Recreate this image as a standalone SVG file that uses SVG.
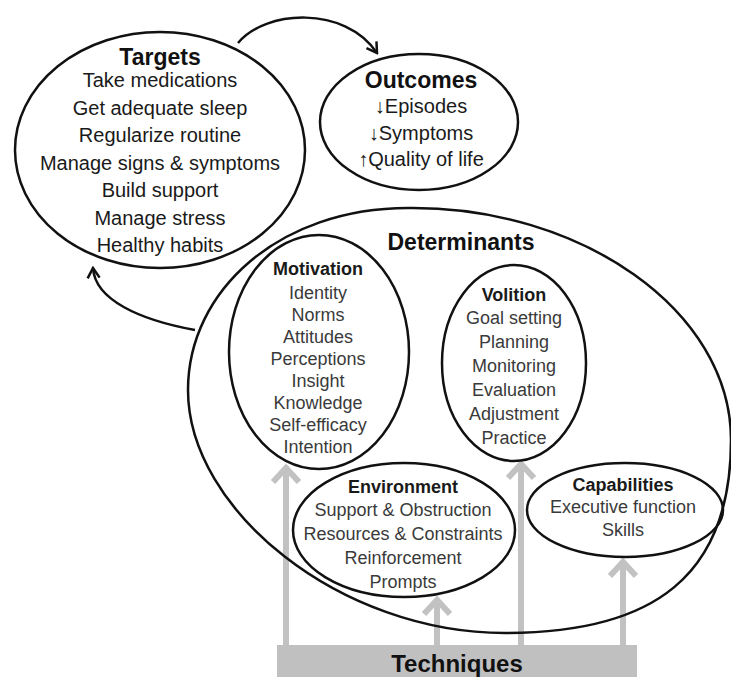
<svg xmlns="http://www.w3.org/2000/svg" xmlns:xlink="http://www.w3.org/1999/xlink" width="731" height="677" viewBox="0 0 731 677">
<style>
.el{fill:none;stroke:#111;stroke-width:2.5}
.t{font-family:"Liberation Sans",Arial,sans-serif;text-anchor:middle}
.h1{font-size:23px;font-weight:bold;fill:#111}
.i1{font-size:20px;fill:#1a1a1a}
.h2{font-size:18px;font-weight:bold;fill:#1a1a1a}
.i2{font-size:18px;fill:#3a3a3a}
.ga{fill:none;stroke:#c2c2c2;stroke-width:6}
.ba{fill:none;stroke:#111;stroke-width:2.5}
</style>
<defs>
<marker id="mk" viewBox="-12 -8 14 16" refX="0" refY="0" markerWidth="14" markerHeight="16" markerUnits="userSpaceOnUse" orient="auto">
<path d="M-10,-6 L0,0 L-10,6" fill="none" stroke="#111" stroke-width="2.5"/>
</marker>
<path id="gh" d="M-13,14 L0,0 L13,14" fill="none" stroke="#c2c2c2" stroke-width="6"/>
</defs>
<rect width="731" height="677" fill="#fff"/>

<g id="connectors">
<path class="ba" d="M238,43 C265,10 345,5 377,53" marker-end="url(#mk)"/>
<path class="ba" d="M195,330 C140,320 95,300 93,268" marker-end="url(#mk)"/>
<line class="ga" x1="286" y1="646" x2="286" y2="470"/>
<use xlink:href="#gh" x="286" y="468"/>
<line class="ga" x1="437" y1="646" x2="437" y2="602"/>
<use xlink:href="#gh" x="437" y="600"/>
<line class="ga" x1="521" y1="646" x2="521" y2="466"/>
<use xlink:href="#gh" x="521" y="464"/>
<line class="ga" x1="623" y1="646" x2="623" y2="564"/>
<use xlink:href="#gh" x="623" y="562"/>
</g>

<g id="targets">
<ellipse class="el" cx="160" cy="150" rx="145" ry="118"/>
<text class="t h1" x="160" y="65">Targets</text>
<text class="t i1" x="160" y="87">Take medications</text>
<text class="t i1" x="160" y="115">Get adequate sleep</text>
<text class="t i1" x="160" y="142">Regularize routine</text>
<text class="t i1" x="160" y="170">Manage signs &amp; symptoms</text>
<text class="t i1" x="160" y="197">Build support</text>
<text class="t i1" x="160" y="225">Manage stress</text>
<text class="t i1" x="160" y="252">Healthy habits</text>
</g>

<g id="outcomes">
<ellipse class="el" cx="419" cy="122" rx="99" ry="68"/>
<text class="t h1" x="421" y="88">Outcomes</text>
<text class="t i1" x="421" y="113">↓Episodes</text>
<text class="t i1" x="421" y="140">↓Symptoms</text>
<text class="t i1" x="421" y="166">↑Quality of life</text>
</g>

<g id="determinants">
<path class="el" d="M188,390 C188,290 280,208 408,208 C580,206 731,310 731,440 C731,575 655,633 505,633 C340,633 188,510 188,390 Z"/>
<text class="t h1" x="461" y="250">Determinants</text>
</g>

<g id="motivation">
<ellipse class="el" cx="319" cy="352" rx="90" ry="117"/>
<text class="t h2" x="318" y="275">Motivation</text>
<text class="t i2" x="318" y="299">Identity</text>
<text class="t i2" x="318" y="321">Norms</text>
<text class="t i2" x="318" y="343">Attitudes</text>
<text class="t i2" x="318" y="365">Perceptions</text>
<text class="t i2" x="318" y="387">Insight</text>
<text class="t i2" x="318" y="409">Knowledge</text>
<text class="t i2" x="318" y="431">Self-efficacy</text>
<text class="t i2" x="318" y="453">Intention</text>
</g>

<g id="volition">
<ellipse class="el" cx="514" cy="363" rx="72" ry="98"/>
<text class="t h2" x="514" y="301">Volition</text>
<text class="t i2" x="514" y="324">Goal setting</text>
<text class="t i2" x="514" y="348">Planning</text>
<text class="t i2" x="514" y="372">Monitoring</text>
<text class="t i2" x="514" y="396">Evaluation</text>
<text class="t i2" x="514" y="420">Adjustment</text>
<text class="t i2" x="514" y="444">Practice</text>
</g>

<g id="environment">
<ellipse class="el" cx="404" cy="530" rx="111" ry="67"/>
<text class="t h2" x="403" y="493">Environment</text>
<text class="t i2" x="403" y="516">Support &amp; Obstruction</text>
<text class="t i2" x="403" y="540">Resources &amp; Constraints</text>
<text class="t i2" x="403" y="564">Reinforcement</text>
<text class="t i2" x="403" y="588">Prompts</text>
</g>

<g id="capabilities">
<ellipse class="el" cx="625" cy="510" rx="98" ry="47"/>
<text class="t h2" x="623" y="491">Capabilities</text>
<text class="t i2" x="623" y="513">Executive function</text>
<text class="t i2" x="623" y="536">Skills</text>
</g>

<g id="techniques">
<rect x="277" y="645" width="360" height="40" fill="#c0c0c0"/>
<text class="t" x="457" y="672" font-size="24" font-weight="bold" fill="#111">Techniques</text>
</g>
</svg>
